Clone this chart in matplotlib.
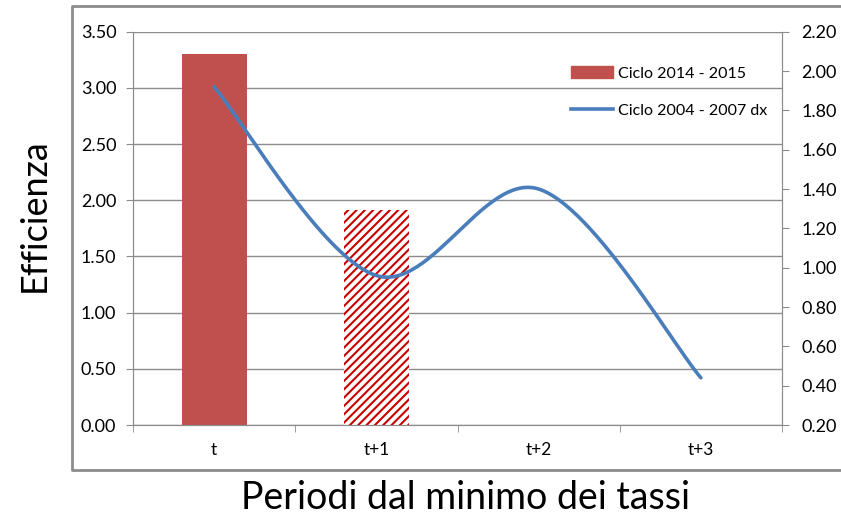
import numpy as np
import matplotlib.pyplot as plt
import matplotlib.patches as mpatches
from matplotlib.lines import Line2D

plt.rcParams['font.family'] = ['Lato', 'DejaVu Sans']
plt.rcParams['hatch.linewidth'] = 1.5

# dati
categories = ["t", "t+1", "t+2", "t+3"]
bar_values = [3.30, 1.91]          # Ciclo 2014 - 2015 (asse sx)
line_values = [1.92, 0.96, 1.40, 0.44]  # Ciclo 2004 - 2007 (asse dx)
left_ticks = [0.0, 0.5, 1.0, 1.5, 2.0, 2.5, 3.0, 3.5]
right_ticks = [0.2, 0.4, 0.6, 0.8, 1.0, 1.2, 1.4, 1.6, 1.8, 2.0, 2.2]

BAR_RED = '#C0504D'
HATCH_RED = '#C80000'
LINE_BLUE = '#4A7EBB'
GRID = '#8C8C8C'


def smooth(xs, ys, n=60):
    # curva "smussata" tipo Excel (bezier con tangenti a 1/6)
    pts = np.column_stack([xs, ys]).astype(float)
    ext = np.vstack([pts[0], pts, pts[-1]])
    out = []
    for i in range(len(pts) - 1):
        p0, p1, p2, p3 = ext[i], ext[i + 1], ext[i + 2], ext[i + 3]
        c1 = p1 + (p2 - p0) / 6
        c2 = p2 - (p3 - p1) / 6
        t = np.linspace(0, 1, n)[:, None]
        seg = (1 - t) ** 3 * p1 + 3 * (1 - t) ** 2 * t * c1 + 3 * (1 - t) * t ** 2 * c2 + t ** 3 * p2
        out.append(seg)
    out = np.vstack(out)
    return out[:, 0], out[:, 1]


fig = plt.figure(figsize=(8.41, 5.17), dpi=100)
ax = fig.add_axes([133 / 841, 92 / 517, 649 / 841, 393.3 / 517])

x = np.arange(len(categories))
ax.bar(x[0], bar_values[0], width=0.4, color=BAR_RED, zorder=2)
ax.bar(x[1], bar_values[1], width=0.4, color='white', edgecolor=HATCH_RED,
       linewidth=0, hatch='////', zorder=2)

ax.set_xlim(-0.5, len(categories) - 0.5)
ax.set_ylim(0, 3.5)
ax.set_yticks(left_ticks)
ax.set_yticklabels([f"{v:.2f}" for v in left_ticks])
ax.yaxis.grid(True, color=GRID, linewidth=1)
ax.set_axisbelow(True)
ax.set_xticks(x)
ax.set_xticklabels(categories)
ax.set_xticks(np.arange(len(categories) + 1) - 0.5, minor=True)
ax.tick_params(axis='x', which='major', length=0, pad=12, labelsize=12.5)
ax.tick_params(axis='x', which='minor', length=5, color=GRID)
ax.tick_params(axis='y', length=5, color=GRID, labelsize=13, pad=7)

ax2 = ax.twinx()
ax2.set_ylim(0.2, 2.2)
ax2.set_yticks(right_ticks)
ax2.set_yticklabels([f"{v:.2f}" for v in right_ticks])
ax2.tick_params(axis='y', length=5, color=GRID, labelsize=13, pad=9)
sx, sy = smooth(x, line_values)
ax2.plot(sx, sy, color=LINE_BLUE, linewidth=2.6, solid_capstyle='round', zorder=3)

for a in (ax, ax2):
    a.spines['top'].set_visible(False)
    for s in ('left', 'right', 'bottom'):
        a.spines[s].set_color(GRID)

fig.text(34 / 841, 1 - 215 / 517, "Efficienza", fontsize=26, rotation=90,
         ha='center', va='center')
fig.text(466 / 841, 1 - 498 / 517, "Periodi dal minimo dei tassi", fontsize=27,
         ha='center', va='center')

handles = [mpatches.Patch(color=BAR_RED),
           Line2D([0], [0], color=LINE_BLUE, linewidth=2.6)]
ax2.legend(handles, ["Ciclo 2014 - 2015", "Ciclo 2004 - 2007 dx"], frameon=False,
           loc='upper left', bbox_to_anchor=(557 / 841, 1 - 52 / 517),
           bbox_transform=fig.transFigure, fontsize=11.5, labelspacing=1.45,
           handlelength=2.6, handletextpad=0.3)

# cornice esterna (il lato destro esce dall'immagine)
fx0, fx1 = 72 / 841, 1.01
fy0, fy1 = 1 - 470 / 517, 1 - 6 / 517
fig.add_artist(Line2D([fx1, fx0, fx0, fx1], [fy1, fy1, fy0, fy0],
                      transform=fig.transFigure, color='#8C8C8C', linewidth=2))

fig.savefig('out.png', dpi=100)
